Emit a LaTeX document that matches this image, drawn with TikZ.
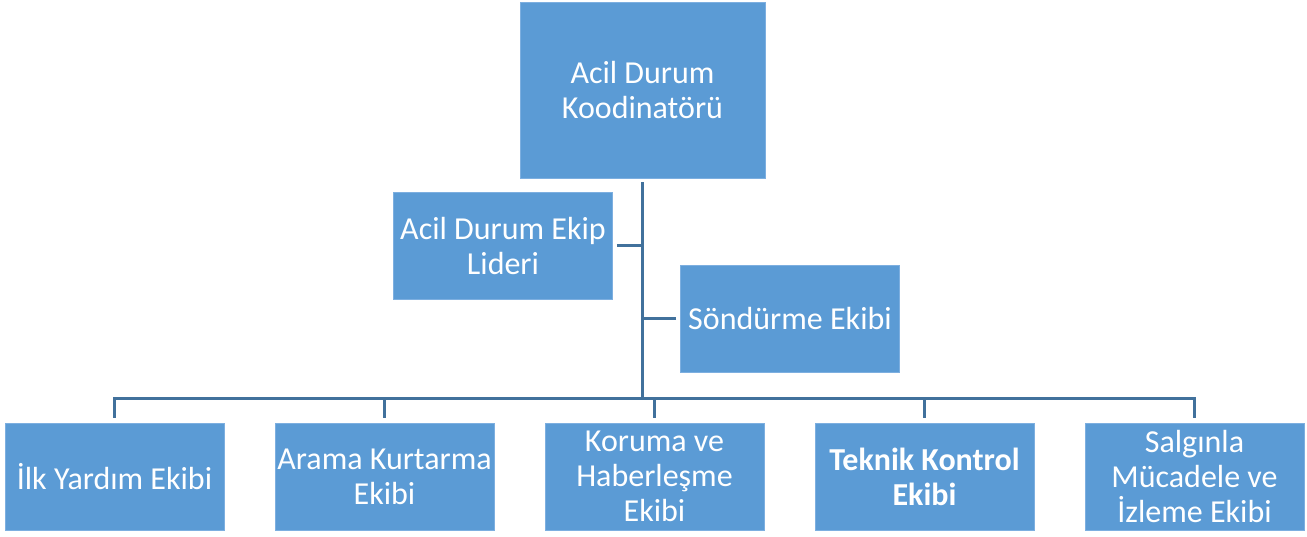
\documentclass[tikz,border=0pt]{standalone}
\usepackage{fontspec}
\setmainfont{Carlito}
\definecolor{kutu}{HTML}{5B9BD5}
\definecolor{kenar}{HTML}{7DAFE0}
\definecolor{hat}{HTML}{41719C}
\begin{document}
\begin{tikzpicture}[x=1pt,y=-1pt]
            \tikzstyle{ekip}=[rectangle,fill=kutu,draw=kenar,line width=0.8pt,text=white,
                align=flush center,inner sep=0pt,text width=219pt,minimum height=107pt,
                font=\fontsize{32}{35}\selectfont]
            \tikzstyle{bag}=[draw=hat,line width=3pt]
            \useasboundingbox (0,0) rectangle (1307,536);
            \node[ekip,text width=245pt,minimum height=176pt] (koord) at (642.5,90) {Acil Durum\\Koodinatörü};
            \node[ekip] (lider) at (503,245.5) {Acil Durum Ekip\\Lideri};
            \node[ekip] (sond) at (790,318.5) {Söndürme Ekibi};
            \node[ekip] (1) at (114.5,476.5) {İlk Yardım Ekibi};
            \node[ekip] (2) at (384.5,476.5) {Arama Kurtarma\\Ekibi};
            \node[ekip] (3) at (654.5,476.5) {Koruma ve\\Haberleşme\\Ekibi};
            \node[ekip] (4) at (924.5,476.5) {\bfseries Teknik Kontrol\\\bfseries Ekibi};
            \node[ekip] (5) at (1194.5,476.5) {Salgınla\\Mücadele ve\\İzleme Ekibi};
            \coordinate (bar) at (642,398);
            \draw[bag,shorten <=4pt] (koord.south -| bar) -- (bar);
            \draw[bag,shorten <=4pt] (lider.east) -- (lider.east -| bar);
            \draw[bag,shorten <=4pt] (sond.west) -- (sond.west -| bar);
            \draw[bag,line cap=rect] (bar -| 1.north) -- (bar -| 5.north);
            \draw[bag,shorten <=5pt] (1.north) -- (bar -| 1.north);
            \draw[bag,shorten <=5pt] (2.north) -- (bar -| 2.north);
            \draw[bag,shorten <=5pt] (3.north) -- (bar -| 3.north);
            \draw[bag,shorten <=5pt] (4.north) -- (bar -| 4.north);
            \draw[bag,shorten <=5pt] (5.north) -- (bar -| 5.north);
        \end{tikzpicture}
\end{document}
